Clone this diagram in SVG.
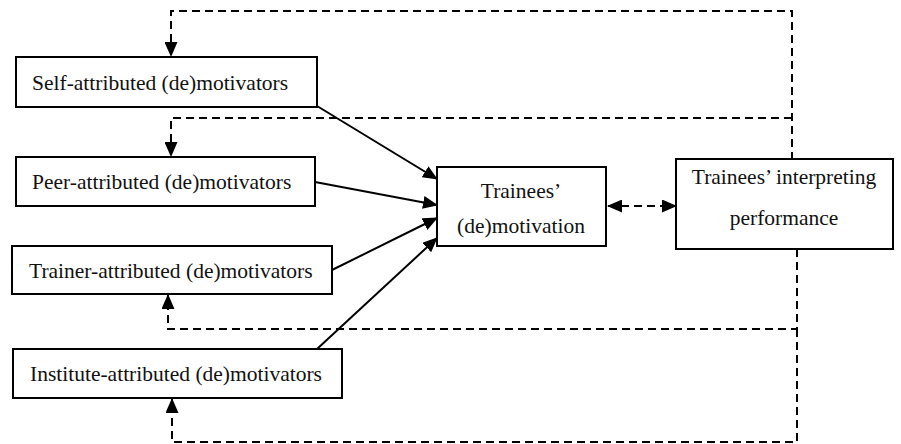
<svg xmlns="http://www.w3.org/2000/svg" width="901" height="444" viewBox="0 0 901 444">
<style>
.box{fill:#fff;stroke:#000;stroke-width:2}
.t{font-family:"Liberation Serif","Times New Roman",serif;font-size:21.5px;fill:#111}
.c{text-anchor:middle}
.solid{fill:none;stroke:#000;stroke-width:2}
.dash{fill:none;stroke:#000;stroke-width:2;stroke-dasharray:8 5}
</style>
<defs>
<marker id="ah" markerUnits="userSpaceOnUse" markerWidth="15" markerHeight="13" refX="14" refY="6.5" orient="auto-start-reverse">
<path d="M0,0 L15,6.5 L0,13 Z" fill="#000"/>
</marker>
</defs>
<rect width="901" height="444" fill="#fff"/>
<g id="connectors">
<path class="dash" d="M792,160 V11 H171 V56" marker-end="url(#ah)"/>
<path class="dash" d="M792,118 H171 V156" marker-end="url(#ah)"/>
<path class="dash" d="M797,249 V329 H168 V295" marker-end="url(#ah)"/>
<path class="dash" d="M797,329 V442 H172 V399" marker-end="url(#ah)"/>
<path class="dash" d="M608,206 H676" marker-start="url(#ah)" marker-end="url(#ah)"/>
<path class="solid" d="M317,106 L437,179" marker-end="url(#ah)"/>
<path class="solid" d="M315,182 L437,205" marker-end="url(#ah)"/>
<path class="solid" d="M332,270 L437,218" marker-end="url(#ah)"/>
<path class="solid" d="M317,349 L437,238" marker-end="url(#ah)"/>
</g>
<g id="self">
<rect class="box" x="16" y="57" width="301" height="50"/>
<text class="t" x="32" y="90">Self-attributed (de)motivators</text>
</g>
<g id="peer">
<rect class="box" x="16" y="157" width="299" height="49"/>
<text class="t" x="32" y="189">Peer-attributed (de)motivators</text>
</g>
<g id="trainer">
<rect class="box" x="12" y="246" width="320" height="48"/>
<text class="t" x="29" y="278">Trainer-attributed (de)motivators</text>
</g>
<g id="institute">
<rect class="box" x="13" y="349" width="329" height="49"/>
<text class="t" x="30" y="381">Institute-attributed (de)motivators</text>
</g>
<g id="motivation">
<rect class="box" x="437" y="167" width="169" height="79"/>
<text class="t c" x="521" y="198">Trainees’</text>
<text class="t c" x="521" y="233">(de)motivation</text>
</g>
<g id="performance">
<rect class="box" x="676" y="159" width="217" height="90"/>
<text class="t c" x="784" y="184">Trainees’ interpreting</text>
<text class="t c" x="784" y="225">performance</text>
</g>
</svg>
